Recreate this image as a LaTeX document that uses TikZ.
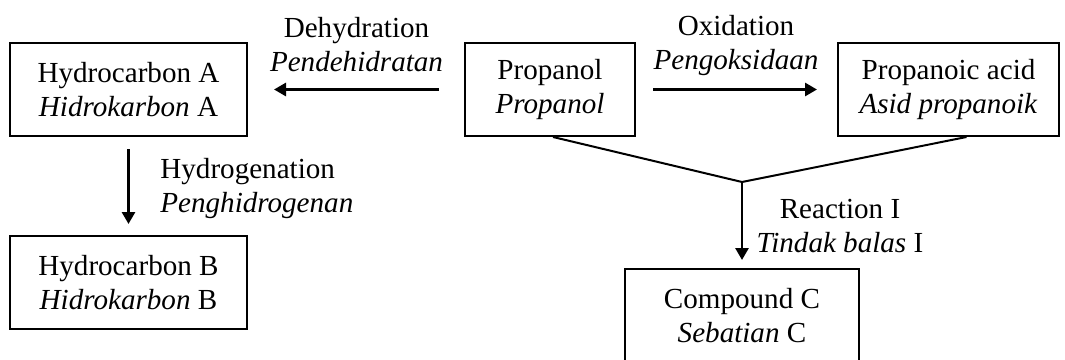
\documentclass[tikz,border=0pt]{standalone}
\usepackage{fontspec}
\setmainfont{Liberation Serif}
\usetikzlibrary{arrows.meta}

\begin{document}
\begin{tikzpicture}[x=0.5pt,y=-0.5pt,font=\fontsize{14.55}{17}\selectfont]
\tikzstyle{arrow}=[-{Triangle[length=6pt,width=6.5pt]},line width=1.4pt];
\tikzstyle{box}=[draw,line width=1pt,align=center,inner sep=0pt,minimum height=46.5pt];
\tikzstyle{label}=[align=center,inner sep=0pt];
\useasboundingbox (0,0) rectangle (1065,359);
\clip (0,0) rectangle (1065,359);
\node (1) [box,minimum width=118.5pt] at (128.5,89.5) {Hydrocarbon A\\\textit{Hidrokarbon} A};
\node (2) [box,minimum width=85pt] at (550,89.5) {Propanol\\\textit{Propanol}};
\node (3) [box,minimum width=110.5pt] at (948.5,89.5) {Propanoic acid\\\textit{Asid propanoik}};
\node (4) [box,minimum width=118.5pt] at (128.5,282.5) {Hydrocarbon B\\\textit{Hidrokarbon} B};
\node (5) [box,minimum width=117pt] at (742,315.5) {Compound C\\\textit{Sebatian} C};
\coordinate (j) at (742,182);
\node (l1) [label] at (356.5,45) {Dehydration\\\textit{Pendehidratan}};
\node (l2) [label] at (736,45) {Oxidation\\\textit{Pengoksidaan}};
\node (l3) [label,align=left,anchor=west] at (160,188) {Hydrogenation\\\textit{Penghidrogenan}};
\node (l4) [label] at (840,226) {Reaction I\\\textit{Tindak balas} I};
\draw [arrow,shorten <=12.5pt,shorten >=13pt] (2) -- (1);
\draw [arrow,shorten <=8.5pt,shorten >=10pt] (2) -- (3);
\draw [arrow,shorten <=6pt,shorten >=5.5pt] (1) -- (4);
\draw [line width=1pt] ([xshift=1.5pt]2.south) -- (j) -- ([xshift=9pt]3.south);
\draw [arrow,shorten >=4pt] (j) -- (5);
\end{tikzpicture}
\end{document}
